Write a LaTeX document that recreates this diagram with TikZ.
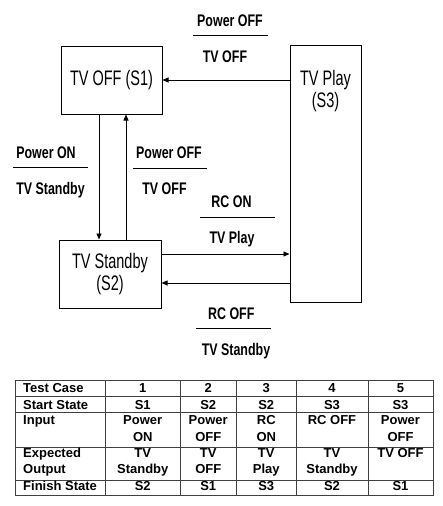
\documentclass[tikz,border=0pt]{standalone}
\usepackage{fontspec}
\setmainfont{Liberation Sans}
\newfontfamily\boxfont[FakeStretch=0.69]{Liberation Sans}
\newfontfamily\lblfont[FakeStretch=0.74]{Liberation Sans}
\usetikzlibrary{arrows.meta}
\begin{document}
\begin{tikzpicture}[x=1pt,y=-1pt,
  statebox/.style={draw=black,line width=1pt,inner sep=0pt,
    font={\boxfont\fontsize{21}{22}\selectfont},align=center},
  arr/.style={draw=black,line width=0.8pt,-{Triangle[length=6pt,width=5pt]}},
  lbl/.style={inner sep=0pt,anchor=base,font={\lblfont\bfseries\fontsize{16.8}{18}\selectfont}},
  bar/.style={draw=black,line width=0.7pt},
  tabline/.style={draw=black!75,line width=0.8pt},
  cell/.style={inner sep=0pt,font={\bfseries\fontsize{13}{16.3}\selectfont},align=center},
  hcell/.style={inner sep=0pt,font={\bfseries\fontsize{13}{16.3}\selectfont},align=left}
]
\useasboundingbox (0,0) rectangle (442,506);

% states
\node[statebox,minimum width=101pt,minimum height=68pt] (s1) at (111.5,80) {TV OFF (S1)};
\node[statebox,minimum width=102pt,minimum height=68pt] (s2) at (110,274) {TV Standby\\(S2)};
\node[statebox,minimum width=71pt,minimum height=257pt] (s3) at (325.5,173.5) {};
\node[inner sep=0pt,anchor=north,align=center,font={\boxfont\fontsize{21}{22}\selectfont}]
  (s3txt) at ([yshift=-26pt]s3.north) {TV Play\\(S3)};

% transitions
\draw[arr] (s3.west |- s1.east) -- (s1.east);
\draw[arr] ([xshift=-12.5pt]s1.south) -- ([xshift=-12.5pt]s1.south |- s2.north);
\draw[arr] ([xshift=14.5pt]s1.south |- s2.north) -- ([xshift=14.5pt]s1.south);
\draw[arr] ([yshift=20pt]s2.east) -- ([yshift=20pt]s2.east -| s3.west);
\draw[arr] ([yshift=-9pt]s2.east -| s3.west) -- ([yshift=-9pt]s2.east);

% labels
\node[lbl] (l1a) at (230,26) {Power OFF};
\draw[bar] (193,35.3) -- (267.5,35.3);
\node[lbl] (l1b) at (225,62.5) {TV OFF};

\node[lbl] (l2a) at (46,158.5) {Power ON};
\draw[bar] (13,167.7) -- (88,167.7);
\node[lbl] (l2b) at (50.5,194.5) {TV Standby};

\node[lbl] (l3a) at (169,158.5) {Power OFF};
\draw[bar] (133,168.7) -- (207,168.7);
\node[lbl] (l3b) at (164.5,194.5) {TV OFF};

\node[lbl] (l4a) at (231.5,207.3) {RC ON};
\draw[bar] (200,217.3) -- (275,217.3);
\node[lbl] (l4b) at (232,243) {TV Play};

\node[lbl] (l5a) at (231.3,319) {RC OFF};
\draw[bar] (196,328.3) -- (271,328.3);
\node[lbl] (l5b) at (236,355) {TV Standby};

% table grid
\draw[tabline] (15,380) rectangle (433,495);
\foreach \yy in {396,412,447,480} \draw[tabline] (15,\yy) -- (433,\yy);
\foreach \xx in {105.5,180,236.5,296,368} \draw[tabline] (\xx,380) -- (\xx,495);

% header column
\node[hcell,anchor=base west] (h1) at (23,392.3) {Test Case};
\node[hcell,anchor=base west] (h2) at (23,409) {Start State};
\node[hcell,anchor=north west] (h3) at (23,415.7) {Input};
\node[hcell,anchor=north west] (h4) at (23,448) {Expected\\Output};
\node[hcell,anchor=base west] (h5) at (23,490) {Finish State};

% row 1
\node[cell,anchor=base] (c11) at (142.75,392.3) {1};
\node[cell,anchor=base] (c12) at (208.25,392.3) {2};
\node[cell,anchor=base] (c13) at (266.25,392.3) {3};
\node[cell,anchor=base] (c14) at (332,392.3) {4};
\node[cell,anchor=base] (c15) at (400.5,392.3) {5};
% row 2
\node[cell,anchor=base] (c21) at (142.75,409) {S1};
\node[cell,anchor=base] (c22) at (208.25,409) {S2};
\node[cell,anchor=base] (c23) at (266.25,409) {S2};
\node[cell,anchor=base] (c24) at (332,409) {S3};
\node[cell,anchor=base] (c25) at (400.5,409) {S3};
% row 3
\node[cell,anchor=north] (c31) at (142.75,415.7) {Power\\ON};
\node[cell,anchor=north] (c32) at (208.25,415.7) {Power\\OFF};
\node[cell,anchor=north] (c33) at (266.25,415.7) {RC\\ON};
\node[cell,anchor=north] (c34) at (332,415.7) {RC OFF};
\node[cell,anchor=north] (c35) at (400.5,415.7) {Power\\OFF};
% row 4
\node[cell,anchor=north] (c41) at (142.75,448) {TV\\Standby};
\node[cell,anchor=north] (c42) at (208.25,448) {TV\\OFF};
\node[cell,anchor=north] (c43) at (266.25,448) {TV\\Play};
\node[cell,anchor=north] (c44) at (332,448) {TV\\Standby};
\node[cell,anchor=north] (c45) at (400.5,448) {TV OFF};
% row 5
\node[cell,anchor=base] (c51) at (142.75,490) {S2};
\node[cell,anchor=base] (c52) at (208.25,490) {S1};
\node[cell,anchor=base] (c53) at (266.25,490) {S3};
\node[cell,anchor=base] (c54) at (332,490) {S2};
\node[cell,anchor=base] (c55) at (400.5,490) {S1};
\end{tikzpicture}
\end{document}
